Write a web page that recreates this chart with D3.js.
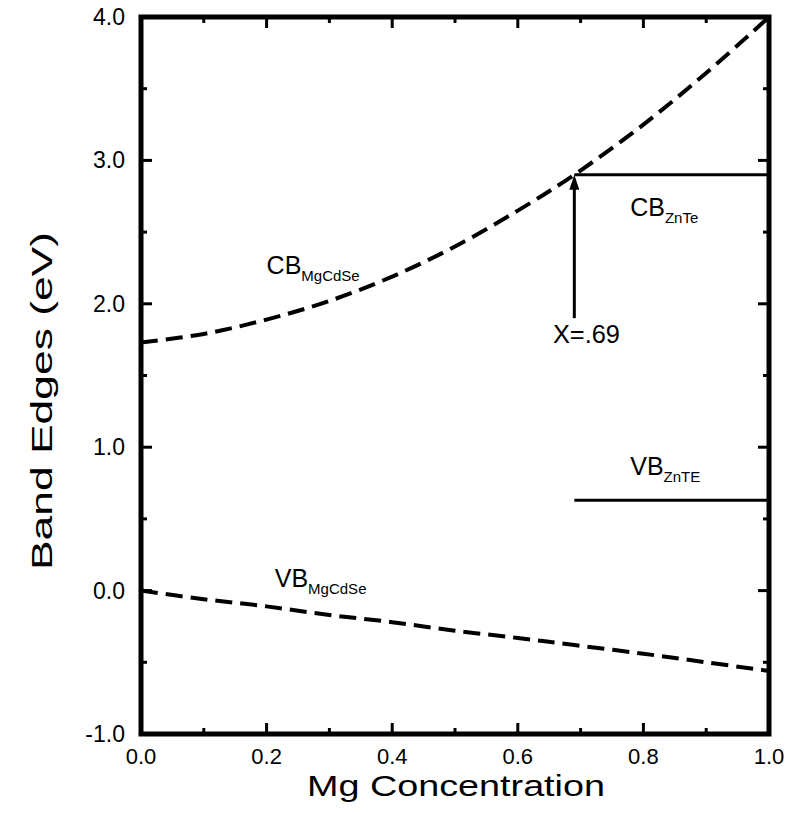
<!DOCTYPE html>
<html>

<head>
	<title>Band Edges vs Mg Concentration</title>
	<meta charset="utf-8" />
	<script src="https://d3js.org/d3.v7.min.js"></script>
	<style>
		body,
		html {
			margin: 0;
			background: white;
		}

		text {
			font-family: "Liberation Sans", Arial, Helvetica, sans-serif;
			fill: black;
		}
	</style>
</head>

<body>
	<svg id="chart" width="789" height="813"></svg>
	<script>
		// Mg concentration points
		var mgX = [0, 0.1, 0.2, 0.3, 0.4, 0.5, 0.6, 0.69, 0.8, 0.9, 1.0];
		// conduction band of MgCdSe (eV)
		var cbMgCdSe = [1.73, 1.79, 1.89, 2.02, 2.19, 2.40, 2.65, 2.90, 3.25, 3.61, 4.00];
		// valence band of MgCdSe (eV)
		var vbMgCdSe = [0, -0.06, -0.11, -0.17, -0.22, -0.28, -0.33, -0.38, -0.44, -0.50, -0.56];

		// ZnTe band edges, drawn from the crossing point to x = 1
		var znteStart = 0.69;
		var cbZnTe = 2.90;
		var vbZnTe = 0.63;
		var arrowFrom = 1.90;

		var xTicks = [0, 0.2, 0.4, 0.6, 0.8, 1.0];
		var xMinor = [0.1, 0.3, 0.5, 0.7, 0.9];
		var yTicks = [-1, 0, 1, 2, 3, 4];
		var yMinor = [-0.5, 0.5, 1.5, 2.5, 3.5];

		var labels = [
			{ main: "CB", sub: "MgCdSe", x: 0.20, y: 2.21 },
			{ main: "VB", sub: "MgCdSe", x: 0.213, y: 0.025 },
			{ main: "CB", sub: "ZnTe", x: 0.779, y: 2.61 },
			{ main: "VB", sub: "ZnTE", x: 0.779, y: 0.806 }
		];

		var svg = d3.select("#chart");

		var x = d3.scaleLinear().domain([0, 1]).range([141, 769]);
		var y = d3.scaleLinear().domain([-1, 4]).range([734, 17]);

		// plain hyphen for negatives, like the original
		var fmt = function (d) { return d.toFixed(1); };

		var g = svg.append("g");

		// ticks, inward on all four sides
		function tickMarks(vals, len) {
			vals.forEach(function (v) {
				g.append("line").attr("x1", x(v)).attr("x2", x(v))
					.attr("y1", y(-1)).attr("y2", y(-1) - len)
					.attr("stroke", "black").attr("stroke-width", 3);
				g.append("line").attr("x1", x(v)).attr("x2", x(v))
					.attr("y1", y(4)).attr("y2", y(4) + len)
					.attr("stroke", "black").attr("stroke-width", 3);
			});
		}
		function yTickMarks(vals, len) {
			vals.forEach(function (v) {
				g.append("line").attr("x1", x(0)).attr("x2", x(0) + len)
					.attr("y1", y(v)).attr("y2", y(v))
					.attr("stroke", "black").attr("stroke-width", 3);
				g.append("line").attr("x1", x(1)).attr("x2", x(1) - len)
					.attr("y1", y(v)).attr("y2", y(v))
					.attr("stroke", "black").attr("stroke-width", 3);
			});
		}
		tickMarks(xTicks, 11);
		tickMarks(xMinor, 6);
		yTickMarks(yTicks, 11);
		yTickMarks(yMinor, 6);

		// frame
		g.append("rect")
			.attr("x", x(0)).attr("y", y(4))
			.attr("width", x(1) - x(0)).attr("height", y(-1) - y(4))
			.attr("fill", "none").attr("stroke", "black").attr("stroke-width", 5);

		// tick labels
		g.selectAll(".xl").data(xTicks).enter().append("text")
			.attr("x", function (d) { return x(d); })
			.attr("y", 764)
			.attr("text-anchor", "middle")
			.attr("font-size", 22)
			.text(fmt);

		g.selectAll(".yl").data(yTicks).enter().append("text")
			.attr("x", 125)
			.attr("y", function (d) { return y(d) + 8; })
			.attr("text-anchor", "end")
			.attr("font-size", 23)
			.text(fmt);

		// axis titles
		svg.append("text")
			.attr("x", 307).attr("y", 796)
			.attr("font-size", 30)
			.attr("textLength", 298)
			.attr("lengthAdjust", "spacingAndGlyphs")
			.text("Mg Concentration");

		svg.append("text")
			.attr("transform", "translate(52,570) rotate(-90)")
			.attr("font-size", 29)
			.attr("textLength", 338)
			.attr("lengthAdjust", "spacingAndGlyphs")
			.text("Band Edges (eV)");

		// dashed MgCdSe curves
		var line = d3.line()
			.x(function (d) { return x(d[0]); })
			.y(function (d) { return y(d[1]); })
			.curve(d3.curveCatmullRom);

		[cbMgCdSe, vbMgCdSe].forEach(function (s) {
			g.append("path")
				.datum(d3.zip(mgX, s))
				.attr("d", line)
				.attr("fill", "none")
				.attr("stroke", "black")
				.attr("stroke-width", 4)
				.attr("stroke-dasharray", "17,8");
		});

		// solid ZnTe levels
		[cbZnTe, vbZnTe].forEach(function (v) {
			g.append("line")
				.attr("x1", x(znteStart)).attr("x2", x(1))
				.attr("y1", y(v)).attr("y2", y(v))
				.attr("stroke", "black").attr("stroke-width", 3);
		});

		// arrow up to the crossing
		g.append("line")
			.attr("x1", x(znteStart)).attr("x2", x(znteStart))
			.attr("y1", y(arrowFrom)).attr("y2", y(cbZnTe) + 10)
			.attr("stroke", "black").attr("stroke-width", 3);
		var ax = x(znteStart), ay = y(cbZnTe);
		g.append("path")
			.attr("d", "M" + ax + "," + ay + " L" + (ax - 5) + "," + (ay + 15) + " L" + (ax + 5) + "," + (ay + 15) + " Z")
			.attr("fill", "black");

		g.append("text")
			.attr("x", x(0.656)).attr("y", y(1.73))
			.attr("font-size", 25)
			.attr("textLength", 67)
			.attr("lengthAdjust", "spacingAndGlyphs")
			.text("X=.69");

		// band labels with subscripts
		labels.forEach(function (l) {
			var t = g.append("text")
				.attr("x", x(l.x)).attr("y", y(l.y))
				.attr("font-size", 25);
			t.append("tspan").text(l.main);
			t.append("tspan").attr("font-size", 15).attr("dy", 7).text(l.sub);
		});
	</script>
</body>

</html>
